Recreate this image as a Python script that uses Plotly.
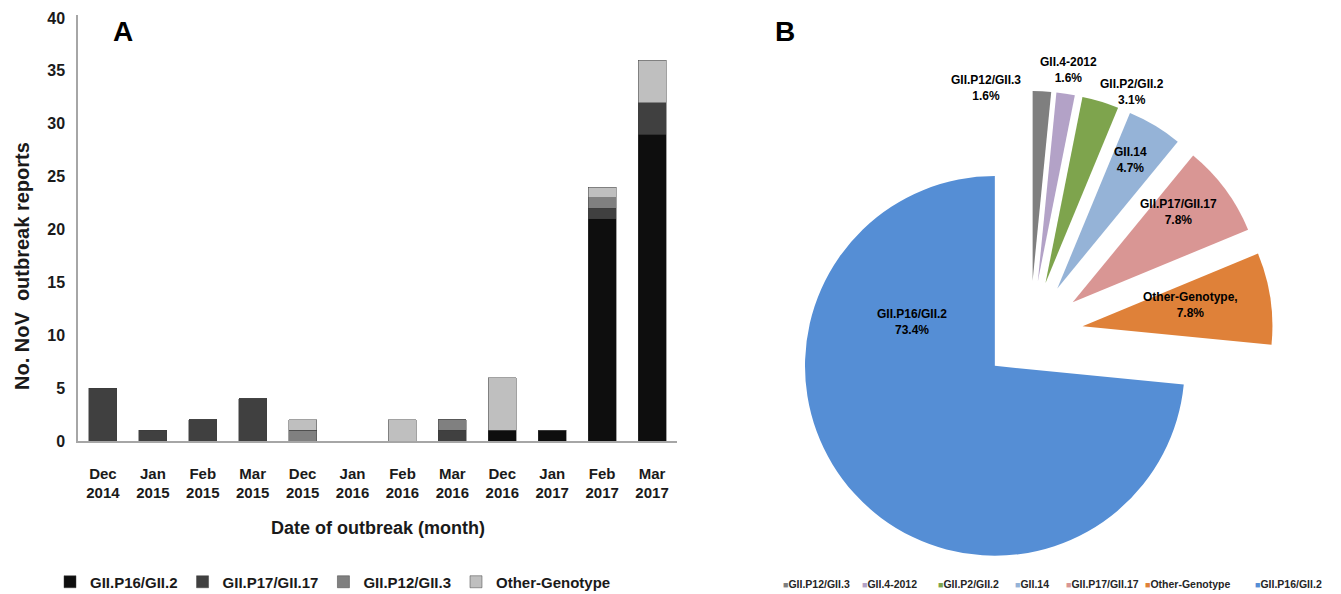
import plotly.graph_objects as go

W, H = 1341, 594

# ---------------- data ----------------
months = ["Dec<br>2014", "Jan<br>2015", "Feb<br>2015", "Mar<br>2015", "Dec<br>2015", "Jan<br>2016",
          "Feb<br>2016", "Mar<br>2016", "Dec<br>2016", "Jan<br>2017", "Feb<br>2017", "Mar<br>2017"]
gii_p16_gii2 = [0, 0, 0, 0, 0, 0, 0, 0, 1, 1, 21, 29]
gii_p17_gii17 = [5, 1, 2, 4, 0, 0, 0, 1, 0, 0, 1, 3]
gii_p12_gii3 = [0, 0, 0, 0, 1, 0, 0, 1, 0, 0, 1, 0]
other_genotype = [0, 0, 0, 0, 1, 0, 2, 0, 5, 0, 1, 4]
bar_series = ["GII.P16/GII.2", "GII.P17/GII.17", "GII.P12/GII.3", "Other-Genotype"]
y_ticks = [0, 5, 10, 15, 20, 25, 30, 35, 40]

pie_labels = ["GII.P12/GII.3", "GII.4-2012", "GII.P2/GII.2", "GII.14",
              "GII.P17/GII.17", "Other-Genotype", "GII.P16/GII.2"]
pie_display = ["GII.P12/GII.3", "GII.4-2012", "GII.P2/GII.2", "GII.14",
               "GII.P17/GII.17", "Other-Genotype,", "GII.P16/GII.2"]
pie_counts = [1, 1, 2, 3, 5, 5, 47]

# ---------------- styles ----------------
bar_colors = ["#0e0e0e", "#404040", "#808080", "#bfbfbf"]
pie_colors = ["#7f7f7f", "#b3a2c7", "#7ea44d", "#95b3d7", "#d99694", "#df8139", "#558ed5"]
pie_pull = [0.28, 0.28, 0.28, 0.28, 0.28, 0.28, 0.25]
# label anchor positions in pixels (layout only)
pie_label_pos = [(986, 88), (1068, 70), (1132, 92), (1130, 160), (1178, 212), (1190, 305), (912, 322)]
NARROW = "Liberation Sans Narrow, Arial Narrow, Liberation Sans, Arial, sans-serif"
SANS = "Liberation Sans, Arial, sans-serif"

def px(x):
    return x / W

def py(y):
    return 1 - y / H

fig = go.Figure()

for name, vals, col in zip(bar_series, [gii_p16_gii2, gii_p17_gii17, gii_p12_gii3, other_genotype], bar_colors):
    fig.add_trace(go.Bar(
        x=months, y=vals, name=name,
        marker=dict(color=col, line=dict(color="rgba(60,60,60,0.6)", width=0.8)),
        xaxis="x", yaxis="y", legend="legend",
    ))

# pie: radius ~190 px, max pull 0.28 -> half domain = 243 px
cx, cy, half = 1030, 334, 243
fig.add_trace(go.Pie(
    labels=pie_labels, values=pie_counts,
    textinfo="none",
    marker=dict(colors=pie_colors, line=dict(color="white", width=0)),
    sort=False, direction="clockwise", rotation=0,
    pull=pie_pull,
    domain=dict(x=[px(cx - half), px(cx + half)], y=[py(cy + half), py(cy - half)]),
    showlegend=False,
    hoverinfo="label+percent",
))

# ---------------- annotations ----------------
def ann(text, x, y, size, angle=0, family=SANS, xanchor="center", color="#1a1a1a"):
    return dict(text=text, x=px(x), y=py(y), xref="paper", yref="paper", showarrow=False,
                textangle=angle, xanchor=xanchor, yanchor="middle",
                font=dict(family=family, size=size, color=color, weight="bold"))

annotations = [
    ann("A", 123, 32, 28, color="black"),
    ann("B", 785, 32, 28, color="black"),
    ann("No. NoV  outbreak reports", 22, 266, 20, angle=-90),
    ann("Date of outbreak (month)", 378, 528, 18),
]

# pie slice labels: name + percentage computed from the counts
total = sum(pie_counts)
for disp, cnt, (lx, ly) in zip(pie_display, pie_counts, pie_label_pos):
    annotations.append(ann(f"{disp}<br>{100 * cnt / total:.1f}%", lx, ly, 12, color="black"))

# pie legend built from the pie labels/colors
legend_x = [781, 860, 936, 1013, 1064, 1143, 1253]
for lab, col, lx in zip(pie_labels, pie_colors, legend_x):
    annotations.append(ann(f"<span style='color:{col};font-size:9px'>■</span>{lab}",
                           lx, 584, 10.5, family=NARROW, xanchor="left", color="#262626"))

fig.update_layout(
    width=W, height=H,
    margin=dict(l=0, r=0, t=0, b=0, autoexpand=False),
    paper_bgcolor="white", plot_bgcolor="white",
    barmode="stack", bargap=0.44,
    xaxis=dict(domain=[px(78), px(677)], showgrid=False, showline=True, linecolor="#a6a6a6",
               linewidth=1.5, ticks="", automargin=False,
               tickfont=dict(family=NARROW, size=15, color="#1a1a1a", weight="bold"),
               ticklabelstandoff=18, fixedrange=True),
    yaxis=dict(domain=[py(441), py(14.8)], range=[0, 40.3], showgrid=False, showline=True,
               linecolor="#a6a6a6", linewidth=1.5, ticks="", tickvals=y_ticks, automargin=False,
               tickfont=dict(family=NARROW, size=16, color="#1a1a1a", weight="bold"),
               ticklabelstandoff=8, zeroline=False),
    legend=dict(orientation="h", x=px(50), y=py(582), xanchor="left", yanchor="middle",
                itemwidth=30, font=dict(family=NARROW, size=15, color="#1a1a1a", weight="bold"),
                bgcolor="rgba(0,0,0,0)", traceorder="normal"),
    annotations=annotations,
    showlegend=True,
)

fig.write_html("out.html", config={"displayModeBar": False},
               post_script="document.body.style.margin='0';document.body.style.overflow='hidden';")
